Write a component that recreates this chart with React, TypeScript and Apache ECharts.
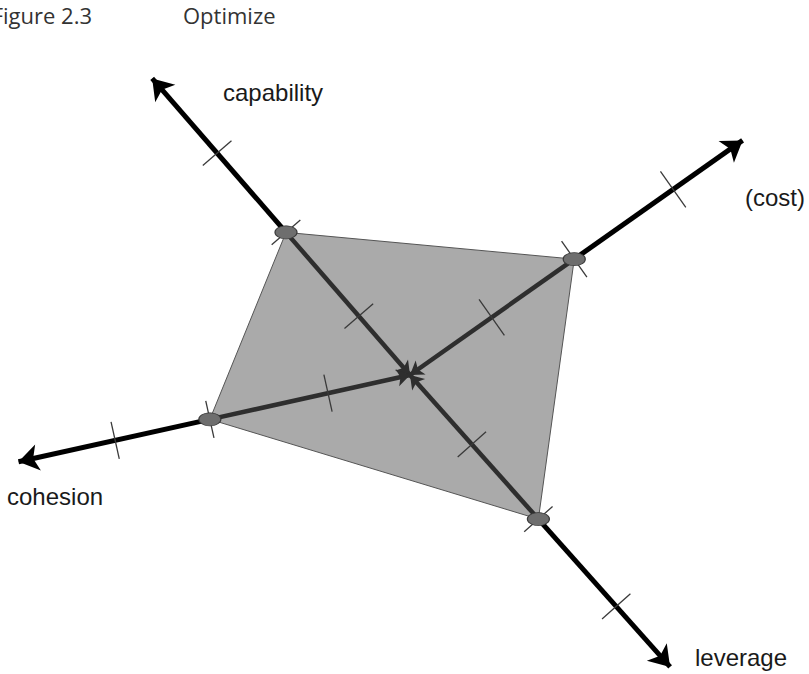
import React, { useEffect, useRef } from "react";
import * as echarts from "echarts";

// Diagram data (1 unit = distance along an axis from the centre)
const axisNames = ["capability", "(cost)", "leverage", "cohesion"];
const axisAnglesDeg = [131, 35.2, -48.3, -167.5];
const vertexValues = [1.89, 2.01, 1.93, 2.05];
const innerTickValues = [0.78, 1.0, 0.93, 0.84];
const outerTickValues = [2.94, 3.22, 3.1, 3.02];
const axisLengths = [3.93, 4.07, 3.91, 4.01];
const tickHalfLengths = [0.19, 0.22, 0.19, 0.19];

const titleLabel = "Figure 2.3";
const titleText = "Optimize";

const rad = (d: number) => (d * Math.PI) / 180;
const pt = (i: number, r: number): [number, number] => [
  r * Math.cos(rad(axisAnglesDeg[i])),
  r * Math.sin(rad(axisAnglesDeg[i])),
];
const tickSeg = (i: number, r: number) => {
  const [cx, cy] = pt(i, r);
  const a = rad(axisAnglesDeg[i]);
  const h = tickHalfLengths[i];
  const px = -Math.sin(a) * h;
  const py = Math.cos(a) * h;
  return { coords: [[cx - px, cy - py], [cx + px, cy + py]] };
};

export default function App() {
  const ref = useRef<HTMLDivElement>(null);
  useEffect(() => {
    if (!ref.current) return;
    const chart = echarts.init(ref.current, undefined, { renderer: "svg" });
    const idx = axisNames.map((_, i) => i);
    const vertices = idx.map((i) => pt(i, vertexValues[i]));
    const labelFont = '24px "Liberation Sans", Arial, sans-serif';
    const titleFont = '22px "Open Sans", sans-serif';
    chart.setOption({
      animation: false,
      backgroundColor: "#ffffff",
      grid: { left: 0, right: 0, top: 0, bottom: 0 },
      xAxis: { type: "value", min: -4.1, max: 3.99, show: false },
      yAxis: { type: "value", min: -2.99, max: 3.75, show: false },
      series: [
        {
          type: "custom",
          coordinateSystem: "cartesian2d",
          data: [[0, 0]],
          z: 1,
          silent: true,
          renderItem: (_p: any, api: any) => ({
            type: "polygon",
            shape: { points: vertices.map((v) => api.coord(v)) },
            style: { fill: "#aaaaaa", stroke: "#555555", lineWidth: 1 },
          }),
        },
        {
          type: "lines",
          coordinateSystem: "cartesian2d",
          z: 3,
          symbol: ["none", "arrow"],
          symbolSize: 13,
          lineStyle: { color: "#2e2e2e", width: 4.5, opacity: 1, curveness: 0 },
          data: idx.map((i) => ({ coords: [vertices[i], [0, 0]] })),
        },
        {
          type: "lines",
          coordinateSystem: "cartesian2d",
          z: 4,
          symbol: ["none", "arrow"],
          symbolSize: 20,
          lineStyle: { color: "#000000", width: 5, opacity: 1, curveness: 0 },
          data: idx.map((i) => ({ coords: [vertices[i], pt(i, axisLengths[i])] })),
        },
        {
          type: "lines",
          coordinateSystem: "cartesian2d",
          z: 5,
          symbol: ["none", "none"],
          lineStyle: { color: "#3a3a3a", width: 1.3, opacity: 1, curveness: 0 },
          data: idx.flatMap((i) => [
            tickSeg(i, innerTickValues[i]),
            tickSeg(i, vertexValues[i]),
            tickSeg(i, outerTickValues[i]),
          ]),
        },
        {
          type: "scatter",
          z: 6,
          symbol: "circle",
          symbolSize: [22, 13],
          itemStyle: { color: "#6e6e6e", borderColor: "#3a3a3a", borderWidth: 1, opacity: 1 },
          data: vertices,
        },
      ],
      graphic: [
        { type: "text", x: 92, y: 15, style: { text: titleLabel, font: titleFont, fill: "#333", align: "right", verticalAlign: "middle" } },
        { type: "text", x: 183, y: 15, style: { text: titleText, font: titleFont, fill: "#333", align: "left", verticalAlign: "middle" } },
        { type: "text", x: 223, y: 92, style: { text: axisNames[0], font: labelFont, fill: "#1a1a1a", align: "left", verticalAlign: "middle" } },
        { type: "text", x: 745, y: 197, style: { text: axisNames[1], font: labelFont, fill: "#1a1a1a", align: "left", verticalAlign: "middle" } },
        { type: "text", x: 695, y: 657, style: { text: axisNames[2], font: labelFont, fill: "#1a1a1a", align: "left", verticalAlign: "middle" } },
        { type: "text", x: 7, y: 496, style: { text: axisNames[3], font: labelFont, fill: "#1a1a1a", align: "left", verticalAlign: "middle" } },
      ],
    });
    return () => chart.dispose();
  }, []);
  return (
    <div
      ref={ref}
      style={{ position: "fixed", left: 0, top: 0, width: 809, height: 674 }}
    />
  );
}
